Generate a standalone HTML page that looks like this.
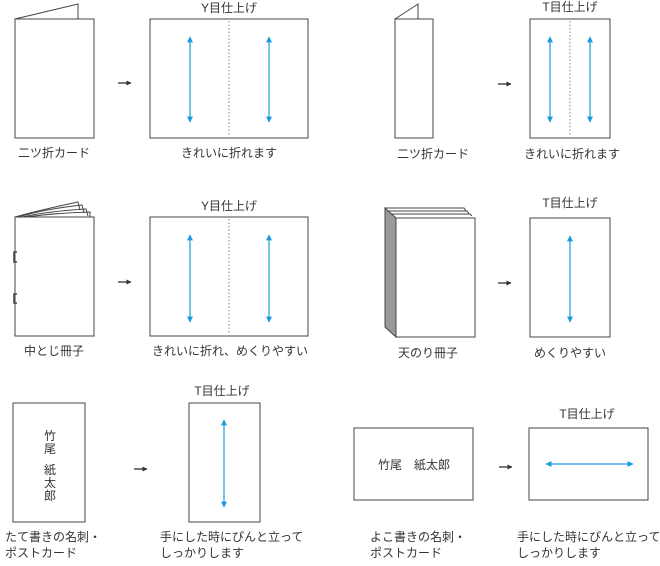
<!DOCTYPE html>
<html><head><meta charset="utf-8"><style>
html,body{margin:0;padding:0;background:#fff;}
svg text{font-family:"Liberation Sans","Noto Sans CJK JP",sans-serif;font-size:12px;fill:#333;}
</style></head><body>
<svg width="660" height="561" viewBox="0 0 660 561" xmlns="http://www.w3.org/2000/svg">
<defs>
<marker id="ah" viewBox="0 0 10 10" refX="9" refY="5" markerWidth="5" markerHeight="5" orient="auto-start-reverse"><path d="M0,0 L10,5 L0,10 z" fill="#1a9be0"/></marker>
<marker id="bh" viewBox="0 0 10 10" refX="9" refY="5" markerWidth="4" markerHeight="4" orient="auto"><path d="M0,0 L10,5 L0,10 z" fill="#333"/></marker>
</defs>
<g fill="none" stroke="#444" stroke-width="1">
<polyline points="15,19 78,4 78,19" fill="#fff"/>
<rect x="15" y="19" width="79" height="119" fill="#fff"/>
<rect x="150" y="19" width="158" height="119"/>
<line x1="229" y1="21" x2="229" y2="136" stroke="#888" stroke-dasharray="1.5,2"/>
<polyline points="395,19 418,4 418,19" fill="#fff"/>
<rect x="395" y="19" width="38" height="119" fill="#fff"/>
<rect x="530" y="19" width="80" height="119"/>
<line x1="570" y1="21" x2="570" y2="136" stroke="#888" stroke-dasharray="1.5,2"/>
<path d="M15,217 Q40,210 78,202 L80,210" />
<path d="M18,217 Q45,209 82,205 L84,213" />
<path d="M22,217 Q50,211 86,209 L88,216" />
<path d="M26,217 Q55,213 90,212 L90,217" />
<rect x="15" y="217" width="79" height="119" fill="#fff"/>
<path d="M17,252 L14,252 L14,262 L17,262" stroke-width="1.5"/>
<path d="M17,294 L14,294 L14,303 L17,303" stroke-width="1.5"/>
<rect x="150" y="217" width="158" height="119"/>
<line x1="229" y1="219" x2="229" y2="334" stroke="#888" stroke-dasharray="1.5,2"/>
<polygon points="385,208 396,218 396,337 385,327" fill="#999"/>
<polyline points="385,208 464,208 466,211" />
<polyline points="388,211 467,211 469,214" />
<polyline points="391,214 470,214 472,216" />
<rect x="396" y="218" width="79" height="119" fill="#fff"/>
<rect x="530" y="218" width="80" height="119"/>
<rect x="13" y="403" width="72" height="119"/>
<rect x="189" y="403" width="71" height="119"/>
<rect x="354" y="428" width="119" height="72"/>
<rect x="529" y="428" width="119" height="72"/>
</g>
<g stroke="#1a9be0" stroke-width="1.2" marker-start="url(#ah)" marker-end="url(#ah)">
<line x1="190" y1="37" x2="190" y2="122"/>
<line x1="269" y1="37" x2="269" y2="122"/>
<line x1="550" y1="37" x2="550" y2="122"/>
<line x1="590" y1="37" x2="590" y2="122"/>
<line x1="190" y1="235" x2="190" y2="322"/>
<line x1="269" y1="235" x2="269" y2="322"/>
<line x1="570" y1="236" x2="570" y2="322"/>
<line x1="224" y1="420" x2="224" y2="507"/>
<line x1="546" y1="464" x2="633" y2="464"/>
</g>
<g stroke="#333" stroke-width="1.3" marker-end="url(#bh)">
<line x1="118" y1="83" x2="131" y2="83"/>
<line x1="498" y1="84" x2="511" y2="84"/>
<line x1="118" y1="282" x2="131" y2="282"/>
<line x1="498" y1="283" x2="511" y2="283"/>
<line x1="134" y1="469" x2="147" y2="469"/>
<line x1="499" y1="467" x2="512" y2="467"/>
</g>
<g text-anchor="middle">
<text x="229" y="12">Y目仕上げ</text>
<text x="570" y="11">T目仕上げ</text>
<text x="229" y="210">Y目仕上げ</text>
<text x="570" y="207">T目仕上げ</text>
<text x="222" y="395">T目仕上げ</text>
<text x="587" y="418">T目仕上げ</text>
<text x="54" y="157">二ツ折カード</text>
<text x="229" y="157">きれいに折れます</text>
<text x="433" y="158">二ツ折カード</text>
<text x="572" y="158">きれいに折れます</text>
<text x="54" y="355">中とじ冊子</text>
<text x="230" y="355">きれいに折れ、めくりやすい</text>
<text x="428" y="357">天のり冊子</text>
<text x="570" y="357">めくりやすい</text>
<text x="50" y="440">竹</text>
<text x="50" y="453">尾</text>
<text x="50" y="474">紙</text>
<text x="50" y="487">太</text>
<text x="50" y="500">郎</text>
<text x="414" y="469">竹尾　紙太郎</text>
</g>
<g>
<text x="5" y="541">たて書きの名刺・</text>
<text x="5" y="557">ポストカード</text>
<text x="160" y="541">手にした時にぴんと立って</text>
<text x="160" y="557">しっかりします</text>
<text x="370" y="541">よこ書きの名刺・</text>
<text x="370" y="557">ポストカード</text>
<text x="517" y="541">手にした時にぴんと立って</text>
<text x="517" y="557">しっかりします</text>
</g>
</svg>
</body></html>
